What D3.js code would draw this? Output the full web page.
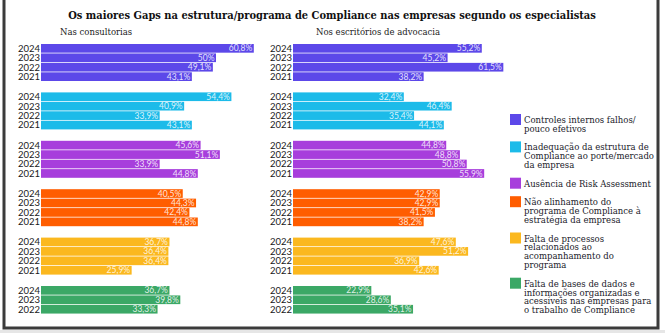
<!DOCTYPE html>
<html>
<head>
<meta charset="utf-8">
<script src="https://cdn.jsdelivr.net/npm/d3@7"></script>
<style>
  body { margin: 0; background: #fff; }
</style>
</head>
<body>
<div id="chart"></div>
<script>
// chart data
let years = ["2024", "2023", "2022", "2021"];

let categories = [
  "Controles internos falhos/ pouco efetivos",
  "Inadequação da estrutura de Compliance ao porte/mercado da empresa",
  "Ausência de Risk Assessment",
  "Não alinhamento do programa de Compliance à estratégia da empresa",
  "Falta de processos relacionados ao acompanhamento do programa",
  "Falta de bases de dados e informações organizadas e acessíveis nas empresas para o trabalho de Compliance"
];

// legend text broken in lines like the original
let legendLines = [
  ["Controles internos falhos/", "pouco efetivos"],
  ["Inadequação da estrutura de", "Compliance ao porte/mercado", "da empresa"],
  ["Ausência de Risk Assessment"],
  ["Não alinhamento do", "programa de Compliance à", "estratégia da empresa"],
  ["Falta de processos", "relacionados ao", "acompanhamento do", "programa"],
  ["Falta de bases de dados e", "informações organizadas e", "acessíveis nas empresas para", "o trabalho de Compliance"]
];

let colors = ["#5c48e9", "#1cbbe9", "#a73edc", "#ff5d00", "#fbb81f", "#3ba866"];

// values per category, in year order 2024, 2023, 2022, 2021
let consultorias = [
  [60.8, 50, 49.1, 43.1],
  [54.4, 40.9, 33.9, 43.1],
  [45.6, 51.1, 33.9, 44.8],
  [40.5, 44.3, 42.4, 44.8],
  [36.7, 36.4, 36.4, 25.9],
  [36.7, 39.8, 33.3]
];

let escritorios = [
  [55.2, 45.2, 61.5, 38.2],
  [32.4, 46.4, 35.4, 44.1],
  [44.8, 48.8, 50.8, 55.9],
  [42.9, 42.9, 41.5, 38.2],
  [47.6, 51.2, 36.9, 42.6],
  [22.9, 28.6, 35.1]
];

let panelTitles = ["Nas consultorias", "Nos escritórios de advocacia"];

let svgWidth = 665;
let svgHeight = 333;

let svg = d3.select("#chart")
  .append("svg")
  .attr("width", svgWidth)
  .attr("height", svgHeight)
  .style("display", "block");

// frame
svg.append("rect")
  .attr("x", 0).attr("y", 330)
  .attr("width", svgWidth).attr("height", 3)
  .attr("fill", "#e6e6e6");

svg.append("path")
  .attr("d", "M4,0 V328 H658 V0")
  .attr("fill", "none")
  .attr("stroke", "#3b3b3b")
  .attr("stroke-width", 3);

// title
svg.append("text")
  .attr("x", 332)
  .attr("y", 19)
  .attr("text-anchor", "middle")
  .attr("font-family", "DejaVu Serif")
  .attr("font-stretch", "condensed")
  .attr("font-weight", "bold")
  .attr("font-size", 11)
  .attr("fill", "#111")
  .text("Os maiores Gaps na estrutura/programa de Compliance nas empresas segundo os especialistas");

// group + year scales
let yGroup = d3.scaleBand()
  .domain(d3.range(categories.length))
  .range([44, 44 + 48.4 * categories.length]);

let yYear = d3.scaleBand()
  .domain(years)
  .range([0, 37])
  .paddingInner(0.08);

let panels = [
  { title: panelTitles[0], data: consultorias, x0: 41, scale: d3.scaleLinear().domain([0, 100]).range([0, 350]), titleX: 60 },
  { title: panelTitles[1], data: escritorios, x0: 293, scale: d3.scaleLinear().domain([0, 100]).range([0, 342]), titleX: 316 }
];

panels.forEach(p => {
  svg.append("text")
    .attr("x", p.titleX)
    .attr("y", 35)
    .attr("font-family", "DejaVu Serif")
    .attr("font-size", 8.5)
    .attr("fill", "#222")
    .text(p.title);

  let rows = [];
  p.data.forEach((vals, g) => {
    vals.forEach((v, i) => rows.push({ g: g, year: years[i], value: v }));
  });

  let grp = svg.append("g").attr("transform", `translate(${p.x0},0)`);

  grp.selectAll("rect")
    .data(rows)
    .enter()
    .append("rect")
    .attr("x", 0)
    .attr("y", d => yGroup(d.g) + yYear(d.year))
    .attr("width", d => p.scale(d.value))
    .attr("height", yYear.bandwidth())
    .attr("fill", d => colors[d.g]);

  grp.selectAll("text.year")
    .data(rows)
    .enter()
    .append("text")
    .attr("class", "year")
    .attr("x", -1)
    .attr("y", d => yGroup(d.g) + yYear(d.year) + yYear.bandwidth() / 2)
    .attr("dy", "0.36em")
    .attr("text-anchor", "end")
    .attr("font-family", "Lato")
    .attr("font-size", 9.5)
    .attr("fill", "#1a1a1a")
    .text(d => d.year);

  grp.selectAll("text.val")
    .data(rows)
    .enter()
    .append("text")
    .attr("class", "val")
    .attr("x", d => p.scale(d.value) - 1.5)
    .attr("y", d => yGroup(d.g) + yYear(d.year) + yYear.bandwidth() / 2)
    .attr("dy", "0.36em")
    .attr("text-anchor", "end")
    .attr("font-family", "Lato")
    .attr("font-size", 8.5)
    .attr("fill", "#fff")
    .attr("fill-opacity", 0.85)
    .text(d => String(d.value).replace(".", ",") + "%");
});

// legend
let lineH = 8.9;
let legendTop = 114;
let legend = svg.append("g");
legendLines.forEach((lines, k) => {
  let item = legend.append("g").attr("transform", `translate(510,${legendTop})`);
  item.append("rect")
    .attr("width", 11)
    .attr("height", 11)
    .attr("fill", colors[k]);
  item.selectAll("text")
    .data(lines)
    .enter()
    .append("text")
    .attr("x", 14)
    .attr("y", (d, i) => 9 + i * lineH)
    .attr("font-family", "DejaVu Serif")
    .attr("font-size", 8.5)
    .attr("fill", "#1a1a2a")
    .text(d => d);
  legendTop += lines.length * lineH + 9.6;
});
</script>
</body>
</html>
